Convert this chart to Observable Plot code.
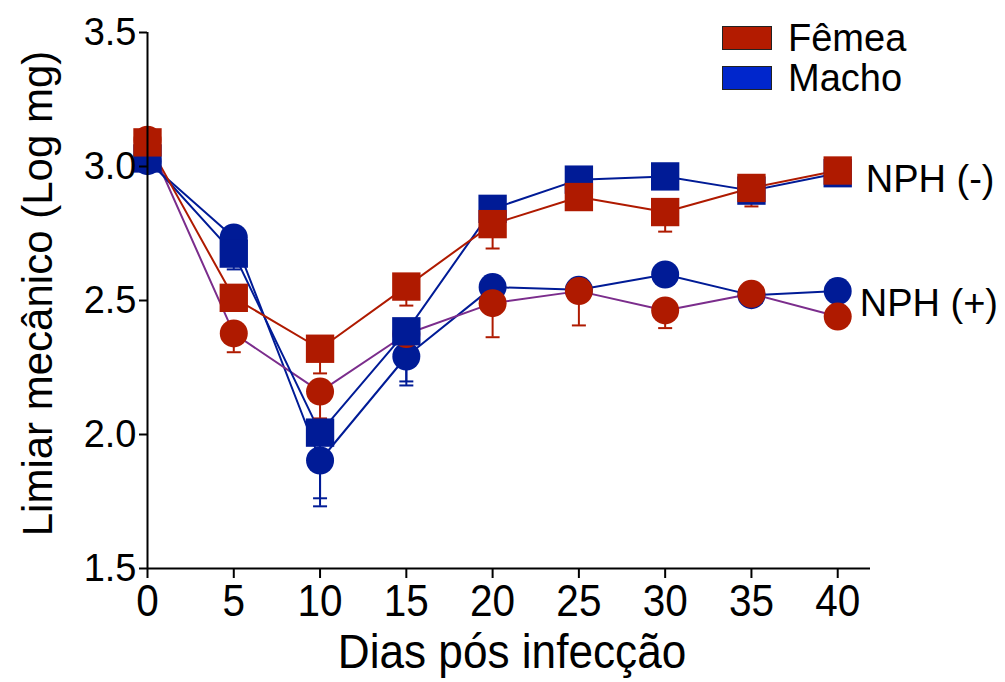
<!DOCTYPE html>
<html><head><meta charset="utf-8">
<script src="https://cdn.jsdelivr.net/npm/d3@7"></script>
<script src="https://cdn.jsdelivr.net/npm/@observablehq/plot@0.6"></script>
<style>
body{margin:0;background:#fff;}
#wrap{position:relative;width:1005px;height:682px;font-family:"Liberation Sans",Arial,sans-serif;color:#000;}
.leg{position:absolute;left:722px;height:24px;display:flex;align-items:center;font-size:38px;white-space:nowrap;}
.sw{width:48px;height:22px;border:1.5px solid #222;margin-right:16px;}
</style></head><body><div id="wrap"></div>
<script>
// ---- data ----
const days = [0, 5, 10, 15, 20, 25, 30, 35, 40];
const femeaNeg    = [3.09, 2.51, 2.32, 2.552, 2.785, 2.886, 2.83, 2.92, 2.985];
const femeaNegErr = [0.02, 0.03, 0.092, 0.071, 0.091, 0.03, 0.073, 0.069, 0.02];
const femeaPos    = [3.10, 2.377, 2.16, 2.375, 2.49, 2.535, 2.463, 2.525, 2.44];
const femeaPosErr = [0.02, 0.07, 0.10, 0.12, 0.127, 0.128, 0.066, 0.03, 0.02];
const machoNeg    = [3.03, 2.675, 2.007, 2.385, 2.842, 2.951, 2.963, 2.91, 2.975];
const machoNegErr = [0.02, 0.059, 0.245, 0.187, 0.03, 0.03, 0.03, 0.04, 0.02];
const machoPos    = [3.02, 2.735, 1.903, 2.291, 2.55, 2.54, 2.597, 2.52, 2.535];
const machoPosErr = [0.02, 0.03, 0.171, 0.108, 0.03, 0.03, 0.03, 0.03, 0.02];
const legendNames = ["Fêmea", "Macho"];
const groupLabels = ["NPH (-)", "NPH (+)"];
const yTicks = [1.5, 2.0, 2.5, 3.0, 3.5];
const xTitle = "Dias pós infecção";
const yTitle = "Limiar mecânico (Log mg)";

// ---- styling ----
const RED = "#AF1A00", BLUE = "#001B96", PURPLE = "#7B2D8C";
const LEG_RED = "#B31B00", LEG_BLUE = "#0026CC";

const series = [
  {vals: machoPos, err: machoPosErr, sym: "circle", fill: BLUE, line: BLUE},
  {vals: femeaPos, err: femeaPosErr, sym: "circle", fill: RED, line: PURPLE},
  {vals: machoNeg, err: machoNegErr, sym: "square", fill: BLUE, line: BLUE},
  {vals: femeaNeg, err: femeaNegErr, sym: "square", fill: RED, line: RED}
];
const rowsOf = s => days.map((d, i) => ({day: d, value: s.vals[i], low: s.vals[i] - s.err[i]}));

const capSymbol = {draw(ctx) { ctx.moveTo(-7, 0); ctx.lineTo(7, 0); }};

const marks = [];
for (const s of series) marks.push(Plot.line(rowsOf(s), {x: "day", y: "value", stroke: s.line, strokeWidth: 2}));
for (const s of series) {
  marks.push(Plot.ruleX(rowsOf(s), {x: "day", y1: "value", y2: "low", stroke: s.fill, strokeWidth: 2}));
  marks.push(Plot.dot(rowsOf(s), {x: "day", y: "low", symbol: capSymbol, r: 7, fill: "none", stroke: s.fill, strokeWidth: 2}));
}
for (const s of series) marks.push(Plot.dot(rowsOf(s), {x: "day", y: "value", symbol: s.sym, r: s.sym === "square" ? 16 : 14, fill: s.fill, stroke: "none"}));

const last = days.length - 1;
marks.push(Plot.text([groupLabels[0]], {x: days[last], y: machoNeg[last], text: d => d, dx: 28, dy: 7, textAnchor: "start", fontSize: 38}));
marks.push(Plot.text([groupLabels[1]], {x: days[last], y: (machoPos[last] + femeaPos[last]) / 2, text: d => d, dx: 22, dy: 0, textAnchor: "start", fontSize: 38}));

marks.push(Plot.ruleX([0], {stroke: "#000", strokeWidth: 2}));
marks.push(Plot.ruleY([1.5], {stroke: "#000", strokeWidth: 2}));
marks.push(Plot.axisY({ticks: yTicks, tickFormat: d3.format(".1f"), tickSize: 8, tickPadding: 3, fontSize: 38, label: null, stroke: "#000", strokeWidth: 2, fill: "#000"}));
marks.push(Plot.axisX({ticks: days, tickSize: 10, tickPadding: 6, fontSize: 45, label: null, stroke: "#000", strokeWidth: 2, fill: "#000"}));
marks.push(Plot.text([yTitle], {frameAnchor: "left", textAnchor: "middle", rotate: -90, dx: -109, dy: -7, text: d => d, fontSize: 42}));
marks.push(Plot.text([xTitle], {frameAnchor: "bottom", textAnchor: "middle", dx: 3, dy: 99, text: d => d, fontSize: 48}));

const chart = Plot.plot({
  width: 1005, height: 682,
  marginLeft: 147, marginRight: 135, marginTop: 32, marginBottom: 114,
  x: {domain: [0, 41.9], label: null},
  y: {domain: [1.5, 3.5], label: null},
  style: {fontFamily: "Liberation Sans, Arial, sans-serif", fontSize: "38px", background: "#fff", overflow: "visible", color: "#000"},
  marks
});

// condensed look for the x-axis texts (scale around each text's own anchor)
const tickStrings = days.map(String);
chart.querySelectorAll("text").forEach(t => {
  const s = t.textContent;
  let k = null;
  if (s === xTitle) k = 0.92;
  else if (tickStrings.includes(s)) k = 0.9;
  if (k == null) return;
  const x = +(t.getAttribute("x") || 0);
  t.setAttribute("transform", (t.getAttribute("transform") || "") + ` translate(${x},0) scale(${k},1) translate(${-x},0)`);
});

const wrap = document.getElementById("wrap");
wrap.appendChild(chart);

const legColors = [LEG_RED, LEG_BLUE];
legendNames.forEach((name, i) => {
  const row = document.createElement("div");
  row.className = "leg";
  row.style.top = (26 + i * 40) + "px";
  const sw = document.createElement("div");
  sw.className = "sw";
  sw.style.background = legColors[i];
  row.appendChild(sw);
  const t = document.createElement("span");
  t.textContent = name;
  row.appendChild(t);
  wrap.appendChild(row);
});
</script></body></html>
